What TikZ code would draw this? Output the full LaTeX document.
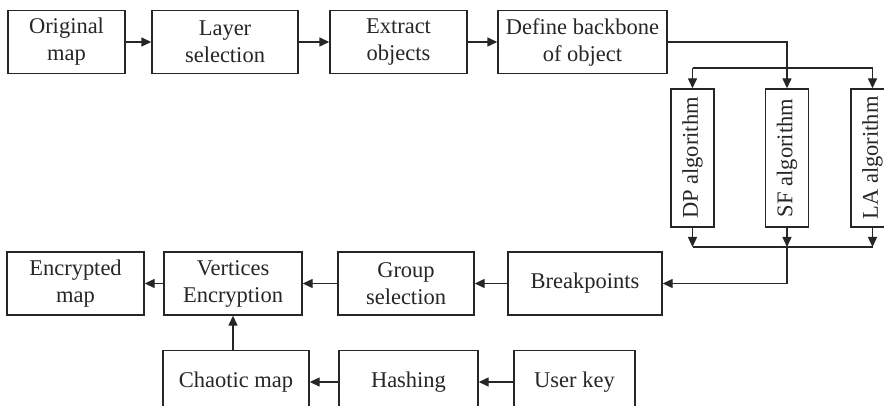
\documentclass[tikz,border=0pt]{standalone}
\usepackage{fontspec}
\setmainfont{Liberation Serif}
\usetikzlibrary{arrows.meta}
\begin{document}
\begin{tikzpicture}[x=1pt,y=-1pt,
  box/.style={draw=black!85, line width=1.4pt, inner sep=0pt, align=center,
    font=\fontsize{22.5}{27}\selectfont, text=black!85, minimum height=63pt},
  vbox/.style={box, minimum height=138pt, minimum width=43pt},
  arr/.style={draw=black!85, line width=1.4pt, -{Triangle[length=10pt,width=9pt]}},
  ln/.style={draw=black!85, line width=1.4pt}]
\useasboundingbox (0,0) rectangle (884,406);
\clip (0,0) rectangle (884,406);
% top row
\node[box, minimum width=117pt] (orig) at (66.5,42) {Original\\map};
\node[box, minimum width=146pt] (layer) at (225,42) {Layer\\selection};
\node[box, minimum width=137pt] (extract) at (398.5,42) {Extract\\objects};
\node[box, minimum width=169pt] (define) at (582.5,42) {Define backbone\\of object};
% algorithms
\node[vbox] (dp) at (692.5,158) {\rotatebox{90}{DP algorithm}};
\node[vbox] (sf) at (787,158) {\rotatebox{90}{SF algorithm}};
\node[vbox] (la) at (872.5,158) {\rotatebox{90}{LA algorithm}};
% middle row
\node[box, minimum width=154pt] (bp) at (585,283.5) {Breakpoints};
\node[box, minimum width=136pt] (group) at (406,283.5) {Group\\selection};
\node[box, minimum width=138pt] (vert) at (233,283.5) {Vertices\\Encryption};
\node[box, minimum width=137pt] (enc) at (75.5,283.5) {Encrypted\\map};
% bottom row
\node[box, minimum width=146pt] (chaos) at (236,382) {Chaotic map};
\node[box, minimum width=139pt] (hash) at (408.5,382) {Hashing};
\node[box, minimum width=121pt] (user) at (574.5,382) {User key};
% connectors top
\draw[arr] (orig) -- (layer);
\draw[arr] (layer) -- (extract);
\draw[arr] (extract) -- (define);
\draw[arr] (define.east) -| (sf.north);
\coordinate (dl) at (692.5,68);
\coordinate (dr) at (872.5,68);
\draw[ln] (dl) -- (dr);
\draw[arr] (dl) -- (dp.north);
\draw[arr] (dr) -- (la.north);
% merge
\coordinate (ml) at (692.5,247);
\coordinate (mr) at (872.5,247);
\coordinate (mc) at (787,247);
\draw[ln] (ml) -- (mr);
\draw[arr] (dp.south) -- (ml);
\draw[arr] (sf.south) -- (mc);
\draw[arr] (la.south) -- (mr);
\draw[arr] (mc) |- (bp.east);
% middle row
\draw[arr] (bp) -- (group);
\draw[arr] (group) -- (vert);
\draw[arr] (vert) -- (enc);
% bottom
\draw[arr] (user) -- (hash);
\draw[arr] (hash) -- (chaos);
\draw[arr] (vert.south |- chaos.north) -- (vert.south);
\end{tikzpicture}
\end{document}
